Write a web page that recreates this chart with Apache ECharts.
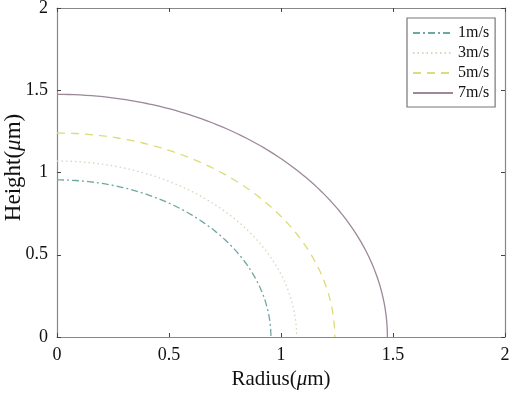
<!DOCTYPE html>
<html><head><meta charset="utf-8">
<script src="https://cdn.jsdelivr.net/npm/echarts@6/dist/echarts.min.js"></script>
<style>html,body{margin:0;padding:0;background:#fff}#c{width:512px;height:393px}</style>
</head><body><div id="c"></div>
<script>
// Data
var seriesNames = ['1m/s', '3m/s', '5m/s', '7m/s'];
var radii = [0.955, 1.07, 1.24, 1.475];          // droplet radius (= height) in µm
var colors = ['#6fa7a2', '#c9dcc0', '#dcdc78', '#9c8898'];
var lineTypes = [[7, 3, 2, 3], [1.5, 3], [8, 6], 'solid'];
var xTicks = [0, 0.5, 1, 1.5, 2];
var yTicks = [0, 0.5, 1, 1.5, 2];
var arcSamples = 90; // samples along quarter arc

function arc(r) {
  var pts = [];
  for (var i = 0; i <= arcSamples; i++) {
    var a = (i / arcSamples) * Math.PI / 2;
    pts.push([r * Math.sin(a), r * Math.cos(a)]);
  }
  return pts;
}

var font = 'Liberation Serif';
var chart = echarts.init(document.getElementById('c'));
var series = seriesNames.map(function (n, i) {
  return {
    name: n, type: 'line', data: arc(radii[i]), symbol: 'none', smooth: false,
    lineStyle: { color: colors[i], width: 1.3, type: lineTypes[i] },
    itemStyle: { color: colors[i] }, z: 2
  };
});
function axisBase() {
  return {
    min: 0, max: 2, interval: 0.5,
    axisLine: { show: true, onZero: false, lineStyle: { color: '#888', width: 1.2 } },
    axisTick: { show: true, inside: true, length: 4, lineStyle: { color: '#444' } },
    splitLine: { show: false }
  };
}
chart.setOption({
  animation: false,
  backgroundColor: '#fff',
  grid: { left: 57, right: 7, top: 8, bottom: 56, containLabel: false, outerBoundsMode: 'none' },
  legend: {
    left: 407, top: 18, orient: 'vertical', itemWidth: 40, itemHeight: 12, itemGap: 4,
    padding: [7, 6, 6, 5], borderColor: '#777', borderWidth: 1.2,
    itemStyle: { opacity: 0 },
    textStyle: { fontFamily: font, fontSize: 16, color: '#111' },
    data: seriesNames
  },
  xAxis: [
    Object.assign(axisBase(), {
      type: 'value', position: 'bottom',
      name: 'Radius({i|μ}m)', nameLocation: 'middle', nameGap: 32,
      nameTextStyle: { fontFamily: font, fontSize: 21, color: '#111',
        rich: { i: { fontFamily: font, fontSize: 21, fontStyle: 'italic', color: '#111' } } },
      axisLabel: { fontFamily: font, fontSize: 18, color: '#111', margin: 9 }
    }),
    Object.assign(axisBase(), { type: 'value', position: 'top', axisLabel: { show: false } })
  ],
  yAxis: [
    Object.assign(axisBase(), {
      type: 'value', position: 'left',
      name: 'Height({i|μ}m)', nameLocation: 'middle', nameGap: 32, nameMoveOverlap: false,
      nameTextStyle: { fontFamily: font, fontSize: 23, color: '#111', padding: [0, 0, 0, 10],
        rich: { i: { fontFamily: font, fontSize: 23, fontStyle: 'italic', color: '#111' } } },
      axisLabel: { fontFamily: font, fontSize: 18, color: '#111', margin: 9 }
    }),
    Object.assign(axisBase(), { type: 'value', position: 'right', axisLabel: { show: false } })
  ],
  series: series
});
</script></body></html>
